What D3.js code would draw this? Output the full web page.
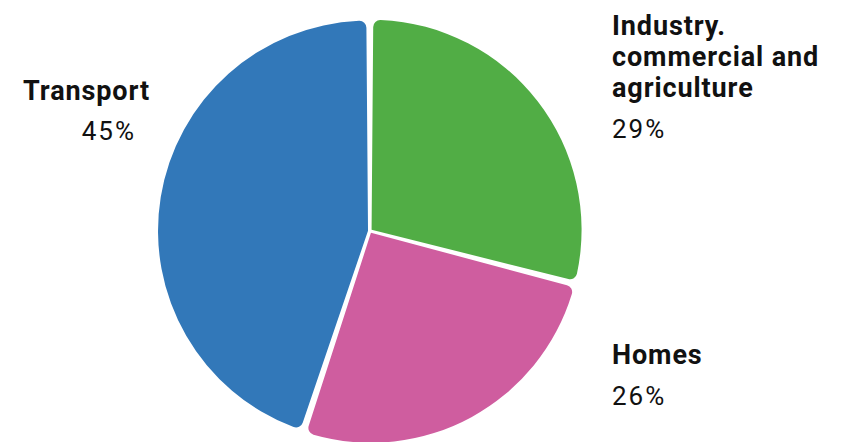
<!DOCTYPE html>
<html>
<head>
<meta charset="utf-8">
<script src="https://cdn.jsdelivr.net/npm/d3@7.9.0/dist/d3.min.js"></script>
<style>
  body { margin: 0; background: #fff; }
  svg { display: block; font-family: Roboto, "Noto Sans", sans-serif; }
</style>
</head>
<body>
<svg id="chart" width="841" height="442"></svg>
<script>
const categories = ['Industry. commercial and agriculture', 'Homes', 'Transport'];
const values = [29, 26, 45];
const colors = ['#51ad45', '#cf5d9f', '#3278b9'];

// label lines, one array per category
const labelLines = [
  ['Industry.', 'commercial and', 'agriculture'],
  ['Homes'],
  ['Transport']
];

const svg = d3.select('#chart');
const cx = 370, cy = 231, radius = 210;
const offset = 2;

const pie = d3.pie().sort(null).value(d => d).padAngle(0.016);
const arc = d3.arc().innerRadius(0).outerRadius(radius).cornerRadius(7);

const g = svg.append('g').attr('transform', `translate(${cx},${cy})`);

g.selectAll('path')
  .data(pie(values))
  .join('path')
  .attr('d', arc)
  .attr('transform', d => {
    let a = (d.startAngle + d.endAngle) / 2;
    return `translate(${offset * Math.sin(a)},${-offset * Math.cos(a)})`;
  })
  .attr('fill', (d, i) => colors[i]);

// label placement
const labelPos = [
  { x: 612, y: 35, anchor: 'start', pctX: 612, pctY: 138 },
  { x: 612, y: 364, anchor: 'start', pctX: 612, pctY: 405 },
  { x: 150, y: 100, anchor: 'end', pctX: 136, pctY: 140 }
];

categories.forEach((c, i) => {
  let p = labelPos[i];
  let t = svg.append('text')
    .attr('x', p.x)
    .attr('y', p.y)
    .attr('text-anchor', p.anchor)
    .attr('font-size', 27)
    .attr('font-weight', 700)
    .attr('letter-spacing', 0.9)
    .attr('fill', '#111');
  labelLines[i].forEach((line, j) => {
    t.append('tspan').attr('x', p.x).attr('dy', j === 0 ? 0 : 31).text(line);
  });
  svg.append('text')
    .attr('x', p.pctX)
    .attr('y', p.pctY)
    .attr('text-anchor', p.anchor)
    .attr('font-size', 26)
    .attr('letter-spacing', 2)
    .attr('fill', '#111')
    .text(values[i] + '%');
});
</script>
</body>
</html>
